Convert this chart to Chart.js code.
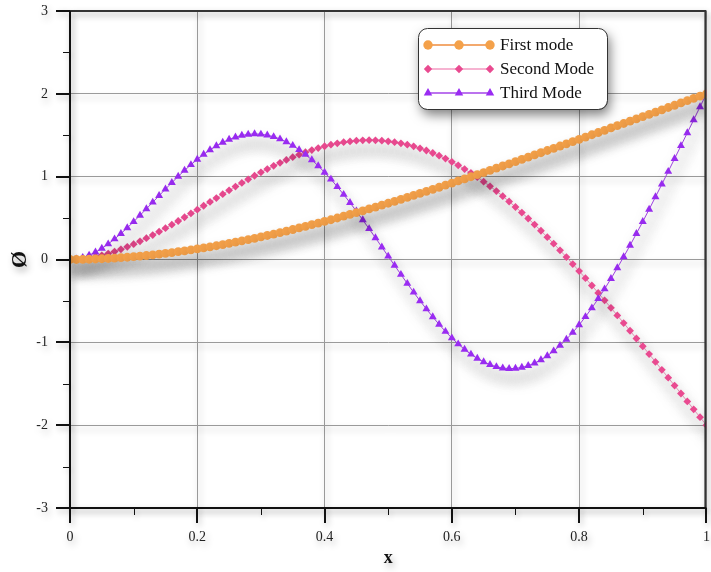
<!DOCTYPE html>
<html>
<head>
<meta charset="utf-8">
<script src="https://cdn.jsdelivr.net/npm/chart.js@4.4.1/dist/chart.umd.min.js"></script>
<style>
    html, body { margin: 0; padding: 0; background: #ffffff; }
    #wrap { width: 711px; height: 572px; position: relative; }
</style>
</head>
<body>
<div id="wrap"><canvas id="modos"></canvas></div>
<script>
// Posiciones x (0 a 1) y valores de cada modo
const xValues = [
    0, 0.01, 0.02, 0.03, 0.04, 0.05, 0.06, 0.07, 0.08, 0.09,
    0.1, 0.11, 0.12, 0.13, 0.14, 0.15, 0.16, 0.17, 0.18, 0.19,
    0.2, 0.21, 0.22, 0.23, 0.24, 0.25, 0.26, 0.27, 0.28, 0.29,
    0.3, 0.31, 0.32, 0.33, 0.34, 0.35, 0.36, 0.37, 0.38, 0.39,
    0.4, 0.41, 0.42, 0.43, 0.44, 0.45, 0.46, 0.47, 0.48, 0.49,
    0.5, 0.51, 0.52, 0.53, 0.54, 0.55, 0.56, 0.57, 0.58, 0.59,
    0.6, 0.61, 0.62, 0.63, 0.64, 0.65, 0.66, 0.67, 0.68, 0.69,
    0.7, 0.71, 0.72, 0.73, 0.74, 0.75, 0.76, 0.77, 0.78, 0.79,
    0.8, 0.81, 0.82, 0.83, 0.84, 0.85, 0.86, 0.87, 0.88, 0.89,
    0.9, 0.91, 0.92, 0.93, 0.94, 0.95, 0.96, 0.97, 0.98, 0.99, 1
];

const firstMode = [
    0, 0.000, 0.001, 0.003, 0.006, 0.009, 0.012, 0.017, 0.022, 0.027,
    0.034, 0.040, 0.048, 0.056, 0.064, 0.074, 0.083, 0.094, 0.105, 0.116,
    0.128, 0.140, 0.153, 0.166, 0.180, 0.195, 0.209, 0.225, 0.240, 0.256,
    0.273, 0.290, 0.307, 0.325, 0.343, 0.362, 0.381, 0.400, 0.420, 0.439,
    0.460, 0.480, 0.501, 0.523, 0.544, 0.566, 0.588, 0.610, 0.633, 0.656,
    0.679, 0.702, 0.726, 0.750, 0.774, 0.798, 0.823, 0.847, 0.872, 0.897,
    0.922, 0.948, 0.973, 0.999, 1.025, 1.050, 1.076, 1.103, 1.129, 1.155,
    1.182, 1.208, 1.235, 1.262, 1.289, 1.316, 1.342, 1.370, 1.397, 1.424,
    1.451, 1.478, 1.506, 1.533, 1.560, 1.588, 1.615, 1.642, 1.670, 1.697,
    1.725, 1.752, 1.780, 1.807, 1.835, 1.862, 1.890, 1.917, 1.945, 1.972, 2.000
];

const secondMode = [
    0, 0.002, 0.009, 0.019, 0.033, 0.051, 0.072, 0.096, 0.123, 0.153,
    0.185, 0.220, 0.257, 0.295, 0.336, 0.378, 0.421, 0.465, 0.510, 0.556,
    0.602, 0.649, 0.695, 0.742, 0.789, 0.835, 0.880, 0.925, 0.968, 1.011,
    1.052, 1.092, 1.131, 1.167, 1.202, 1.235, 1.266, 1.295, 1.321, 1.345,
    1.367, 1.386, 1.402, 1.416, 1.426, 1.434, 1.439, 1.440, 1.439, 1.435,
    1.427, 1.417, 1.403, 1.386, 1.366, 1.342, 1.316, 1.286, 1.254, 1.218,
    1.179, 1.137, 1.092, 1.044, 0.994, 0.940, 0.884, 0.826, 0.764, 0.700,
    0.634, 0.566, 0.495, 0.422, 0.347, 0.270, 0.191, 0.111, 0.029, -0.055,
    -0.140, -0.226, -0.314, -0.403, -0.493, -0.583, -0.675, -0.767, -0.860, -0.954,
    -1.047, -1.142, -1.237, -1.332, -1.427, -1.522, -1.618, -1.713, -1.809, -1.904, -2.000
];

const thirdMode = [
    0, 0.006, 0.023, 0.051, 0.088, 0.134, 0.187, 0.247, 0.312, 0.382,
    0.456, 0.533, 0.611, 0.691, 0.770, 0.850, 0.927, 1.003, 1.075, 1.144,
    1.209, 1.269, 1.323, 1.372, 1.414, 1.449, 1.477, 1.498, 1.511, 1.516,
    1.512, 1.501, 1.482, 1.455, 1.419, 1.376, 1.325, 1.267, 1.202, 1.130,
    1.052, 0.968, 0.878, 0.784, 0.686, 0.583, 0.478, 0.371, 0.261, 0.150,
    0.039, -0.071, -0.181, -0.290, -0.396, -0.499, -0.598, -0.693, -0.784, -0.869,
    -0.948, -1.020, -1.086, -1.144, -1.194, -1.236, -1.270, -1.295, -1.311, -1.317,
    -1.315, -1.303, -1.282, -1.251, -1.212, -1.163, -1.105, -1.039, -0.964, -0.881,
    -0.790, -0.691, -0.586, -0.474, -0.356, -0.232, -0.102, 0.032, 0.170, 0.312,
    0.457, 0.605, 0.756, 0.908, 1.062, 1.217, 1.373, 1.529, 1.686, 1.843, 2.000
];

const seriesLabels = ["First mode", "Second Mode", "Third Mode"];
const xMajorTicks = [0, 0.2, 0.4, 0.6, 0.8, 1];
const xMinorTicks = [0.1, 0.3, 0.5, 0.7, 0.9];
const yMajorTicks = [-3, -2, -1, 0, 1, 2, 3];
const yMinorTicks = [-2.5, -1.5, -0.5, 0.5, 1.5, 2.5];

const serif = "'Liberation Serif', 'DejaVu Serif', serif";

function toPoints(values) {
    return values.map((y, i) => ({ x: xValues[i], y: y }));
}

function setSombra(ctx, color, blur, dx, dy) {
    ctx.shadowColor = color;
    ctx.shadowBlur = blur;
    ctx.shadowOffsetX = dx;
    ctx.shadowOffsetY = dy;
}

// Sombras difusas como en la figura original
const sombras = {
    id: "sombras",
    beforeDraw(chart) {
        setSombra(chart.ctx, "rgba(0,0,0,0.3)", 7, 2, 4);
    },
    beforeDatasetsDraw(chart) {
        setSombra(chart.ctx, "rgba(0,0,0,0.45)", 15, 3, 10);
    },
    afterDatasetsDraw(chart) {
        setSombra(chart.ctx, "rgba(0,0,0,0.3)", 7, 2, 4);
    }
};

// Marco superior/derecho y marcas de los ejes (mayores y menores)
const marcoYMarcas = {
    id: "marcoYMarcas",
    afterDraw(chart) {
        const ctx = chart.ctx;
        const area = chart.chartArea;
        const sx = chart.scales.x;
        const sy = chart.scales.y;
        ctx.save();
        setSombra(ctx, "rgba(0,0,0,0.3)", 6, 2, 3);
        ctx.strokeStyle = "#333333";
        ctx.lineWidth = 2;
        ctx.beginPath();
        ctx.moveTo(area.left, area.top);
        ctx.lineTo(area.right - 1, area.top);
        ctx.lineTo(area.right - 1, area.bottom);
        ctx.stroke();

        ctx.strokeStyle = "#111111";
        ctx.beginPath();
        ctx.moveTo(area.left, area.top);
        ctx.lineTo(area.left, area.bottom);
        ctx.lineTo(area.right, area.bottom);
        ctx.stroke();

        xMajorTicks.forEach(v => {
            const px = Math.round(sx.getPixelForValue(v));
            ctx.beginPath();
            ctx.moveTo(px, area.bottom);
            ctx.lineTo(px, area.bottom + 15);
            ctx.stroke();
        });
        yMajorTicks.forEach(v => {
            const py = Math.round(sy.getPixelForValue(v));
            ctx.beginPath();
            ctx.moveTo(area.left, py);
            ctx.lineTo(area.left - 14, py);
            ctx.stroke();
        });
        ctx.lineWidth = 1;
        xMinorTicks.forEach(v => {
            const px = Math.round(sx.getPixelForValue(v)) + 0.5;
            ctx.beginPath();
            ctx.moveTo(px, area.bottom);
            ctx.lineTo(px, area.bottom + 7);
            ctx.stroke();
        });
        yMinorTicks.forEach(v => {
            const py = Math.round(sy.getPixelForValue(v)) + 0.5;
            ctx.beginPath();
            ctx.moveTo(area.left, py);
            ctx.lineTo(area.left - 7, py);
            ctx.stroke();
        });
        ctx.restore();
    }
};

// Leyenda en caja redondeada con tres marcadores por serie
const leyendaCaja = {
    id: "leyendaCaja",
    afterDraw(chart) {
        const ctx = chart.ctx;
        const box = { x: 418, y: 28, w: 189, h: 81, r: 9 };
        ctx.save();
        setSombra(ctx, "rgba(0,0,0,0.5)", 12, 3, 6);
        ctx.fillStyle = "#ffffff";
        ctx.beginPath();
        ctx.roundRect(box.x, box.y, box.w, box.h, box.r);
        ctx.fill();
        setSombra(ctx, "transparent", 0, 0, 0);
        ctx.lineWidth = 1;
        ctx.strokeStyle = "#333333";
        ctx.beginPath();
        ctx.roundRect(box.x + 0.5, box.y + 0.5, box.w, box.h, box.r);
        ctx.stroke();

        const x0 = 428, x1 = 490;
        chart.data.datasets.forEach((ds, i) => {
            const y = 45 + i * 24;
            ctx.strokeStyle = ds.legendLine;
            ctx.lineWidth = 1.5;
            ctx.beginPath();
            ctx.moveTo(x0, y);
            ctx.lineTo(x1, y);
            ctx.stroke();
            ctx.fillStyle = ds.pointBackgroundColor;
            [x0, (x0 + x1) / 2, x1].forEach(px => {
                Chart.helpers.drawPoint(ctx, {
                    pointStyle: ds.pointStyle,
                    radius: ds.pointRadius + 0.3,
                    rotation: 0,
                    borderWidth: 0
                }, px, y);
            });
            ctx.fillStyle = "#111111";
            ctx.font = "17px " + serif;
            ctx.textBaseline = "middle";
            ctx.textAlign = "left";
            ctx.fillText(ds.label, 500, y + 1);
        });
        ctx.restore();
    }
};

const ctx = document.getElementById("modos").getContext("2d");

new Chart(ctx, {
    type: "line",
    data: {
        datasets: [
            {
                label: seriesLabels[0],
                data: toPoints(firstMode),
                borderColor: "#EF8C3E",
                legendLine: "#EF8C3E",
                borderWidth: 1,
                pointStyle: "circle",
                pointRadius: 4.4,
                pointBackgroundColor: "#F4A14A",
                pointBorderWidth: 0,
                order: 0
            },
            {
                label: seriesLabels[1],
                data: toPoints(secondMode),
                borderColor: "#F39AC2",
                legendLine: "#F39AC2",
                borderWidth: 1,
                pointStyle: "rectRot",
                pointRadius: 3.9,
                pointBackgroundColor: "#E94A90",
                pointBorderWidth: 0,
                order: 2
            },
            {
                label: seriesLabels[2],
                data: toPoints(thirdMode),
                borderColor: "#A444E8",
                legendLine: "#A444E8",
                borderWidth: 1,
                pointStyle: "triangle",
                pointRadius: 4.6,
                pointBackgroundColor: "#9A2CF2",
                pointBorderWidth: 0,
                order: 1
            }
        ]
    },
    options: {
        responsive: true,
        maintainAspectRatio: false,
        animation: false,
        devicePixelRatio: 1,
        layout: { padding: { top: 11, right: 1, bottom: 0, left: 0 } },
        plugins: {
            legend: { display: false },
            tooltip: { enabled: false }
        },
        scales: {
            x: {
                type: "linear",
                min: 0,
                max: 1,
                ticks: {
                    stepSize: 0.2,
                    padding: 21,
                    maxRotation: 0,
                    color: "#222222",
                    font: { family: serif, size: 14 },
                    callback: value => String(Number(value.toFixed(1)))
                },
                grid: { color: "#9a9a9a", lineWidth: 1, drawTicks: false },
                border: { display: false },
                title: {
                    display: true,
                    text: "x",
                    color: "#111111",
                    font: { family: serif, size: 18, weight: "bold" },
                    padding: { top: 0, bottom: 3 }
                },
                afterFit(scale) {
                    scale.height = 64;
                    scale.paddingLeft = 0;
                    scale.paddingRight = 0;
                }
            },
            y: {
                min: -3,
                max: 3,
                ticks: {
                    stepSize: 1,
                    padding: 22,
                    color: "#222222",
                    font: { family: serif, size: 14 }
                },
                grid: { color: "#9a9a9a", lineWidth: 1, drawTicks: false },
                border: { display: false },
                title: {
                    display: true,
                    text: "Ø",
                    color: "#111111",
                    font: { family: serif, size: 22, weight: "bold" },
                    padding: { top: 7, bottom: 0 }
                },
                afterFit(scale) {
                    scale.width = 70;
                    scale.paddingTop = 0;
                    scale.paddingBottom = 0;
                }
            }
        }
    },
    plugins: [sombras, marcoYMarcas, leyendaCaja]
});
</script>
</body>
</html>
